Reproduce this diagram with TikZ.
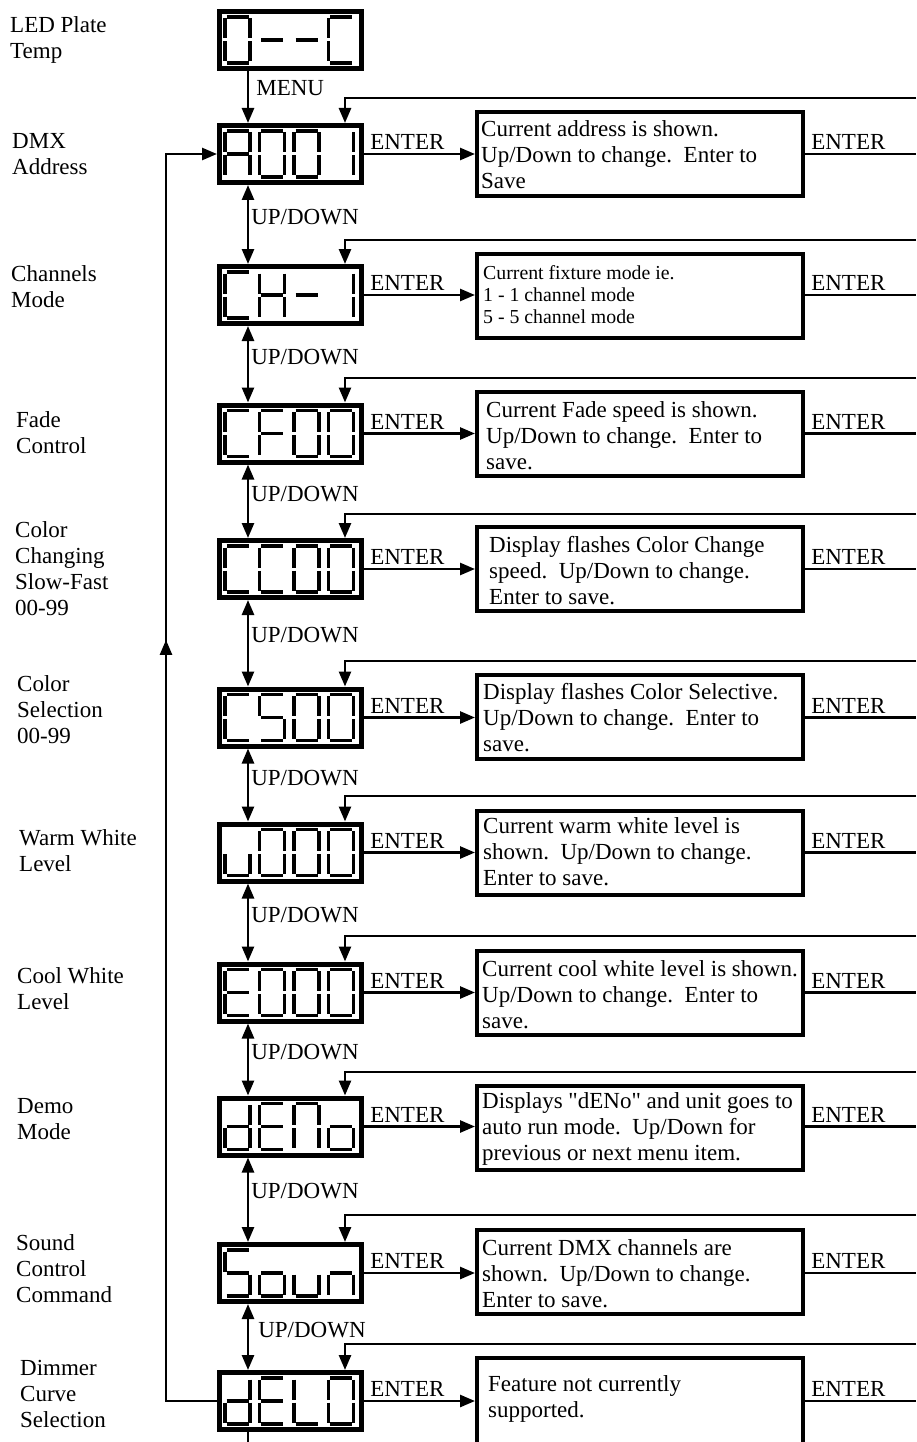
\documentclass[tikz,border=0pt]{standalone}
\usepackage{fontspec}
\setmainfont{Liberation Serif}
\newfontfamily\qfont{Liberation Serif}[Ligatures=TeXOff]
\usetikzlibrary{arrows.meta,decorations.markings,calc}

% seven-segment pieces, relative to the top-left corner of a character cell (w=25, h=46)
\newcommand\SegA[1]{([shift={(1.5,0)}]#1) -- ([shift={(23.5,0)}]#1)}
\newcommand\SegB[1]{([shift={(25,1.5)}]#1) -- ([shift={(25,21.5)}]#1)}
\newcommand\SegC[1]{([shift={(25,24.5)}]#1) -- ([shift={(25,44.5)}]#1)}
\newcommand\SegD[1]{([shift={(1.5,46)}]#1) -- ([shift={(23.5,46)}]#1)}
\newcommand\SegE[1]{([shift={(0,24.5)}]#1) -- ([shift={(0,44.5)}]#1)}
\newcommand\SegF[1]{([shift={(0,1.5)}]#1) -- ([shift={(0,21.5)}]#1)}
\newcommand\SegG[1]{([shift={(1.5,23)}]#1) -- ([shift={(23.5,23)}]#1)}

\newcommand\SSzero{A,B,C,D,E,F}
\newcommand\SSdash{G}
\newcommand\SSC{A,D,E,F}
\newcommand\SSA{A,B,C,E,F,G}
\newcommand\SSone{B,C}
\newcommand\SSH{B,C,E,F,G}
\newcommand\SSF{A,E,F,G}
\newcommand\SSS{A,F,G,C,D}
\newcommand\SSu{C,D,E}
\newcommand\SSE{A,D,E,F,G}
\newcommand\SSd{B,C,D,E,G}
\newcommand\SSN{A,B,C,E,F}
\newcommand\SSo{C,D,E,G}
\newcommand\SSn{C,E,G}
\newcommand\SSL{D,E,F}

\newcommand\segchar[2]{\foreach \s in #2 {\draw[seg] \csname Seg\s\endcsname{#1};}}
\newcommand\dispchars[5]{%
  \coordinate (#1c0) at ([shift={(-65.5,-23)}]#1.center);
  \coordinate (#1c1) at ([shift={(-31,-23)}]#1.center);
  \coordinate (#1c2) at ([shift={(3.5,-23)}]#1.center);
  \coordinate (#1c3) at ([shift={(38,-23)}]#1.center);
  \segchar{#1c0}{#2}\segchar{#1c1}{#3}\segchar{#1c2}{#4}\segchar{#1c3}{#5}}

\tikzset{
  disp/.style={draw, line width=5pt, minimum width=142pt, minimum height=57pt, inner sep=0pt},
  rbox/.style={draw, line width=4pt, minimum width=326pt, minimum height=84pt, inner sep=0pt},
  seg/.style={line width=3.2pt},
  conn/.style={line width=2.6pt},
  arr/.style={conn, -{Triangle[length=15pt,width=12pt]}},
  darr/.style={conn, {Triangle[length=15pt,width=12pt]}-{Triangle[length=15pt,width=12pt]}},
  txt/.style={font=\fontsize{23}{26}\selectfont, align=left, inner sep=0pt, anchor=west},
  smalltxt/.style={font=\fontsize{19.8}{22}\selectfont, align=left, inner sep=0pt, anchor=west},
  key/.style={font=\fontsize{23}{26}\selectfont, inner sep=0pt, anchor=south west, xshift=5pt, yshift=3pt},
  udl/.style={font=\fontsize{23}{26}\selectfont, inner sep=0pt, anchor=west, xshift=2pt},
}

\begin{document}
\begin{tikzpicture}[x=1pt,y=-1pt]
\useasboundingbox (0,0) rectangle (916,1442);

% helper coordinates
\coordinate (udx) at (248,0);
\coordinate (dropx) at (345,0);
\coordinate (lx) at (166,0);
\coordinate (redge) at (916,0);
\coordinate (bottom) at (0,1442);

% display nodes
\node[disp] (d1) at (290.5,40) {};
\node[disp] (d2) at (290.5,154) {};
\node[disp] (d3) at (290.5,295) {};
\node[disp] (d4) at (290.5,433.5) {};
\node[disp] (d5) at (290.5,569) {};
\node[disp] (d6) at (290.5,717.5) {};
\node[disp] (d7) at (290.5,852.5) {};
\node[disp] (d8) at (290.5,992.5) {};
\node[disp] (d9) at (290.5,1126.5) {};
\node[disp] (d10) at (290.5,1273) {};
\node[disp] (d11) at (290.5,1401) {};

\dispchars{d1}{\SSzero}{\SSdash}{\SSdash}{\SSC}
\dispchars{d2}{\SSA}{\SSzero}{\SSzero}{\SSone}
\dispchars{d3}{\SSC}{\SSH}{\SSdash}{\SSone}
\dispchars{d4}{\SSC}{\SSF}{\SSzero}{\SSzero}
\dispchars{d5}{\SSC}{\SSC}{\SSzero}{\SSzero}
\dispchars{d6}{\SSC}{\SSS}{\SSzero}{\SSzero}
\dispchars{d7}{\SSu}{\SSzero}{\SSzero}{\SSzero}
\dispchars{d8}{\SSE}{\SSzero}{\SSzero}{\SSzero}
\dispchars{d9}{\SSd}{\SSE}{\SSN}{\SSo}
\dispchars{d10}{\SSS}{\SSo}{\SSu}{\SSn}
\dispchars{d11}{\SSd}{\SSE}{\SSL}{\SSzero}

% description boxes
\node[rbox] (r2) at (640,154) {};
\node[rbox] (r3) at (640,296) {};
\node[rbox] (r4) at (640,434) {};
\node[rbox] (r5) at (640,569) {};
\node[rbox] (r6) at (640,717) {};
\node[rbox] (r7) at (640,852.5) {};
\node[rbox] (r8) at (640,992.5) {};
\node[rbox] (r9) at (640,1127.5) {};
\node[rbox] (r10) at (640,1272) {};
\node[rbox, minimum height=100pt] (r11) at (640,1408) {};

% description texts
\node[txt] (t2) at (481,155) {Current address is shown.\\Up/Down to change.\enspace Enter to\\Save};
\node[smalltxt] (t3) at (483,295) {Current fixture mode ie.\\1 - 1 channel mode\\5 - 5 channel mode};
\node[txt] (t4) at (486,436) {Current Fade speed is shown.\\Up/Down to change.\enspace Enter to\\save.};
\node[txt] (t5) at (489,571) {Display flashes Color Change\\speed.\enspace Up/Down to change.\\Enter to save.};
\node[txt] (t6) at (483,718) {Display flashes Color Selective.\\Up/Down to change.\enspace Enter to\\save.};
\node[txt] (t7) at (483,852) {Current warm white level is\\shown.\enspace Up/Down to change.\\Enter to save.};
\node[txt] (t8) at (482,995) {Current cool white level is shown.\\Up/Down to change.\enspace Enter to\\save.};
\node[txt] (t9) at (482,1129) {Displays {\qfont"}dENo{\qfont"} and unit goes to\\auto run mode.\enspace Up/Down for\\previous or next menu item.};
\node[txt] (t10) at (482,1274) {Current DMX channels are\\shown.\enspace Up/Down to change.\\Enter to save.};
\node[txt] (t11) at (488,1399) {Feature not currently\\supported.};

% left labels
\node[txt] (l1) at (10,40) {LED Plate\\Temp};
\node[txt] (l2) at (12,154) {DMX\\Address};
\node[txt] (l3) at (11,287) {Channels\\Mode};
\node[txt] (l4) at (16,433) {Fade\\Control};
\node[txt] (l5) at (15,569) {Color\\Changing\\Slow-Fast\\00-99};
\node[txt] (l6) at (17,710) {Color\\Selection\\00-99};
\node[txt] (l7) at (19,851) {Warm White\\Level};
\node[txt] (l8) at (17,989) {Cool White\\Level};
\node[txt] (l9) at (17,1119) {Demo\\Mode};
\node[txt] (l10) at (16,1269) {Sound\\Control\\Command};
\node[txt] (l11) at (20,1394) {Dimmer\\Curve\\Selection};

% MENU
\draw[arr] (d1.south -| udx) -- node[udl, pos=0.33, xshift=5pt] (menu) {MENU} (d2.north -| udx);

% UP/DOWN connectors
\foreach \a/\b in {d2/d3,d3/d4,d4/d5,d5/d6,d6/d7,d7/d8,d8/d9,d9/d10}{
  \draw[darr] (\a.south -| udx) -- node[udl, pos=0.4] {UP/DOWN} (\b.north -| udx);
}
\draw[darr] (d10.south -| udx) -- node[udl, pos=0.39, xshift=7pt] {UP/DOWN} (d11.north -| udx);
\draw[conn] (d11.south -| udx) -- (udx |- bottom);

% ENTER into description boxes and out to the right
\foreach \i in {2,...,11}{
  \draw[arr] (d\i.east) -- node[key, pos=0] {ENTER} (d\i.east -| r\i.west);
  \draw[conn] (d\i.east -| r\i.east) -- node[key, pos=0] {ENTER} (d\i.east -| redge);
}

% return lines from the right
\foreach \i/\y in {2/98,3/240,4/378,5/514,6/661,7/796,8/936,9/1072,10/1215,11/1344}{
  \coordinate (ret\i) at (916,\y);
  \draw[arr] (ret\i) -| (d\i.north -| dropx);
}

% loop back from the last item to DMX address
\draw[arr, postaction={decorate}, decoration={markings,
   mark=at position 0.602 with {\arrow{Triangle[length=15pt,width=12pt]}}}]
  (d11.west) -| (lx |- d2.west) -- (d2.west);
\end{tikzpicture}
\end{document}
